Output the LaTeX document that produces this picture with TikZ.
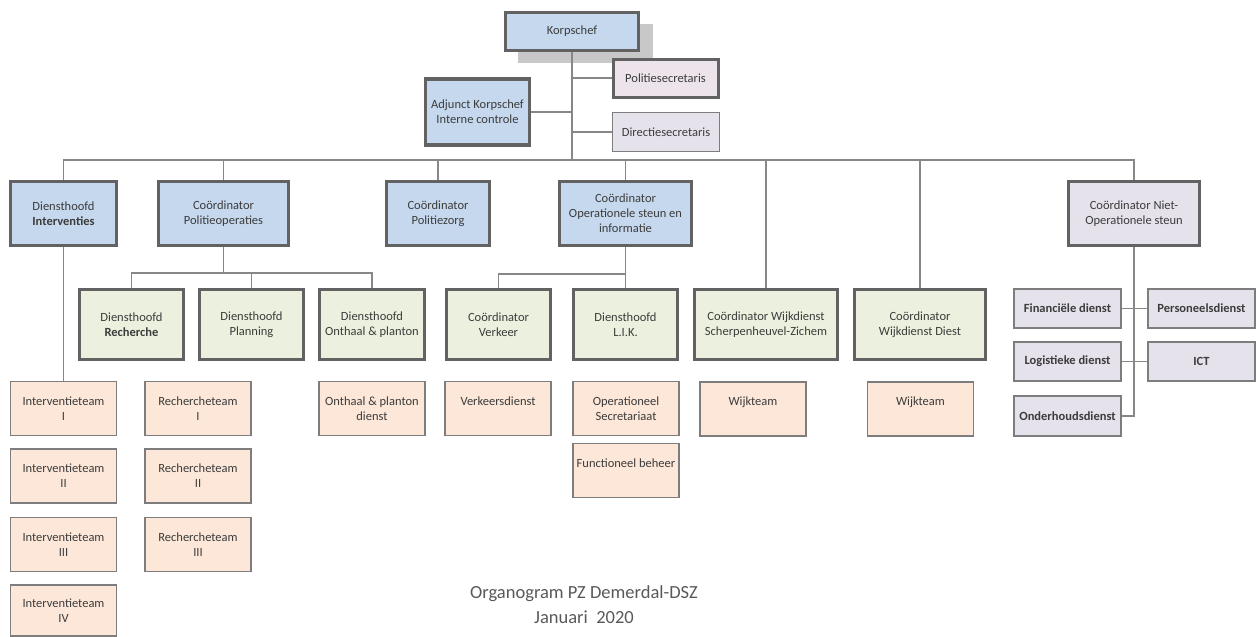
\documentclass[tikz,border=0pt]{standalone}
\usepackage{fontspec}
\setmainfont{Carlito}
\usetikzlibrary{backgrounds}
\definecolor{bluefill}{RGB}{198,216,238}
\definecolor{greenfill}{RGB}{235,241,222}
\definecolor{orangefill}{RGB}{252,231,216}
\definecolor{lavfill}{RGB}{229,226,236}
\definecolor{pinkfill}{RGB}{236,228,234}
\definecolor{darkborder}{RGB}{98,98,98}
\definecolor{thinborder}{RGB}{125,125,125}
\definecolor{linecol}{RGB}{135,135,135}
\definecolor{txt}{RGB}{60,60,60}
\definecolor{shadowcol}{RGB}{200,200,200}
\tikzset{
  boxbase/.style={rectangle, inner sep=1pt, align=center, text=txt,
    font=\fontsize{12.5}{15}\selectfont},
  bluebox/.style={boxbase, fill=bluefill, draw=darkborder, line width=3.5pt},
  greenbox/.style={boxbase, fill=greenfill, draw=darkborder, line width=3.5pt},
  orangebox/.style={boxbase, fill=orangefill, draw=thinborder, line width=1.8pt,
    minimum width=106pt, minimum height=54pt},
  lavbox/.style={boxbase, fill=lavfill, draw=thinborder, line width=1.8pt},
  conn/.style={draw=linecol, line width=1.8pt},
  caption/.style={text=txt!85, font=\fontsize{18.5}{25}\selectfont, align=center}
}
\begin{document}
\begin{tikzpicture}[x=1pt,y=-1pt]
\useasboundingbox (0,0) rectangle (1259,637);

% --- top level
\node[bluebox, minimum width=133pt, minimum height=38pt] (korps) at (572,31.5) {Korpschef};
\node[lavbox, fill=pinkfill, draw=darkborder, line width=3pt, minimum width=105pt, minimum height=38pt] (polsec) at (665.5,78) {Politiesecretaris};
\node[bluebox, minimum width=104pt, minimum height=66pt] (adj) at (477.5,112) {Adjunct Korpschef\\Interne controle};
\node[lavbox, minimum width=107pt, minimum height=39pt] (dirsec) at (666,132) {Directiesecretaris};

% --- level 1
\node[bluebox, minimum width=106pt, minimum height=64pt] (interv) at (63.5,213.5) {Diensthoofd\\\textbf{Interventies}};
\node[bluebox, minimum width=130pt, minimum height=64pt] (polop) at (223.5,213.5) {Coördinator\\Politieoperaties};
\node[bluebox, minimum width=103pt, minimum height=64pt] (polzorg) at (438,213.5) {Coördinator\\Politiezorg};
\node[bluebox, minimum width=132pt, minimum height=64pt] (opsteun) at (625.5,213.5) {Coördinator\\Operationele steun en\\informatie};
\node[lavbox, draw=darkborder, line width=3.5pt, minimum width=131pt, minimum height=64pt] (nietops) at (1134,213.5) {Coördinator Niet-\\Operationele steun};

% --- level 2
\node[greenbox, minimum width=104pt, minimum height=70pt] (recherche) at (131.5,324.5) {Diensthoofd\\\textbf{Recherche}};
\node[greenbox, minimum width=104pt, minimum height=70pt] (planning) at (251.5,324.5) {Diensthoofd\\Planning};
\node[greenbox, minimum width=105pt, minimum height=70pt] (onthaal) at (372,324.5) {Diensthoofd\\Onthaal \& planton};
\node[greenbox, minimum width=104pt, minimum height=70pt] (verkeer) at (498.5,324.5) {Coördinator\\Verkeer};
\node[greenbox, minimum width=104pt, minimum height=70pt] (lik) at (625.5,324.5) {Diensthoofd\\L.I.K.};
\node[greenbox, minimum width=143pt, minimum height=70pt] (wijksz) at (766,324.5) {Coördinator Wijkdienst\\Scherpenheuvel-Zichem};
\node[greenbox, minimum width=131pt, minimum height=70pt] (wijkd) at (920,324.5) {Coördinator\\Wijkdienst Diest};

% --- non-operational services
\node[lavbox, minimum width=107pt, minimum height=39pt] (fin) at (1067.5,308.5) {\textbf{Financiële dienst}};
\node[lavbox, minimum width=107pt, minimum height=39pt] (pers) at (1201.5,308.5) {\textbf{Personeelsdienst}};
\node[lavbox, minimum width=107pt, minimum height=39pt] (logi) at (1067.5,361.5) {\textbf{Logistieke dienst}};
\node[lavbox, minimum width=107pt, minimum height=39pt] (ict) at (1201.5,361.5) {\textbf{ICT}};
\node[lavbox, minimum width=107pt, minimum height=40pt] (onderh) at (1067.5,416) {\textbf{Onderhoudsdienst}};

% --- level 3
\node[orangebox] (it1) at (63.5,408.5) {Interventieteam\\I};
\node[orangebox] (it2) at (63.5,476) {Interventieteam\\II};
\node[orangebox] (it3) at (63.5,544.5) {Interventieteam\\III};
\node[orangebox, minimum height=51pt] (it4) at (63.5,610.5) {Interventieteam\\IV};
\node[orangebox] (rt1) at (198,408.5) {Rechercheteam\\I};
\node[orangebox] (rt2) at (198,476) {Rechercheteam\\II};
\node[orangebox] (rt3) at (198,544.5) {Rechercheteam\\III};
\node[orangebox] (ontd) at (372,408.5) {Onthaal \& planton\\dienst};
\node[orangebox] (verkd) at (498,408.5) {Verkeersdienst\\\mbox{}};
\node[orangebox] (opsec) at (626,408.5) {Operationeel\\Secretariaat};
\node[orangebox] (funcb) at (626,470.5) {Functioneel beheer\\\mbox{}};
\node[orangebox] (wt1) at (753,409) {Wijkteam\\\mbox{}};
\node[orangebox] (wt2) at (920.5,409) {Wijkteam\\\mbox{}};

% --- caption
\node[caption] (cap) at (584,604.5) {Organogram PZ Demerdal-DSZ\\Januari\ \ 2020};

% --- background, shadow and connectors
\coordinate (trunk) at (572,160);
\coordinate (pbus) at (223.5,273);
\coordinate (obus) at (625.5,274);
\begin{scope}[on background layer]
\fill[white] (0,0) rectangle (1259,637);
\fill[shadowcol] (518,24) rectangle (653,63);
\draw[conn] (korps.south) -- (trunk);
\draw[conn] (adj.east) -- (adj.east -| trunk);
\draw[conn] (polsec.west) -- (polsec.west -| trunk);
\draw[conn] (dirsec.west) -- (dirsec.west -| trunk);
\draw[conn] (interv.north) |- (trunk) -| (nietops.north);
\draw[conn] (polop.north) -- (polop.north |- trunk);
\draw[conn] (polzorg.north) -- (polzorg.north |- trunk);
\draw[conn] (opsteun.north) -- (opsteun.north |- trunk);
\draw[conn] (wijksz.north) -- (wijksz.north |- trunk);
\draw[conn] (wijkd.north) -- (wijkd.north |- trunk);
\draw[conn] (interv.south) -- (it1.north);
\draw[conn] (polop.south) -- (pbus);
\draw[conn] (recherche.north) |- (pbus) -| (onthaal.north);
\draw[conn] (planning.north) -- (planning.north |- pbus);
\draw[conn] (opsteun.south) -- (lik.north);
\draw[conn] (verkeer.north) |- (obus);
\draw[conn] (nietops.south) |- (onderh.east);
\draw[conn] (fin.east) -- (pers.west);
\draw[conn] (logi.east) -- (ict.west);
\end{scope}
\end{tikzpicture}
\end{document}
